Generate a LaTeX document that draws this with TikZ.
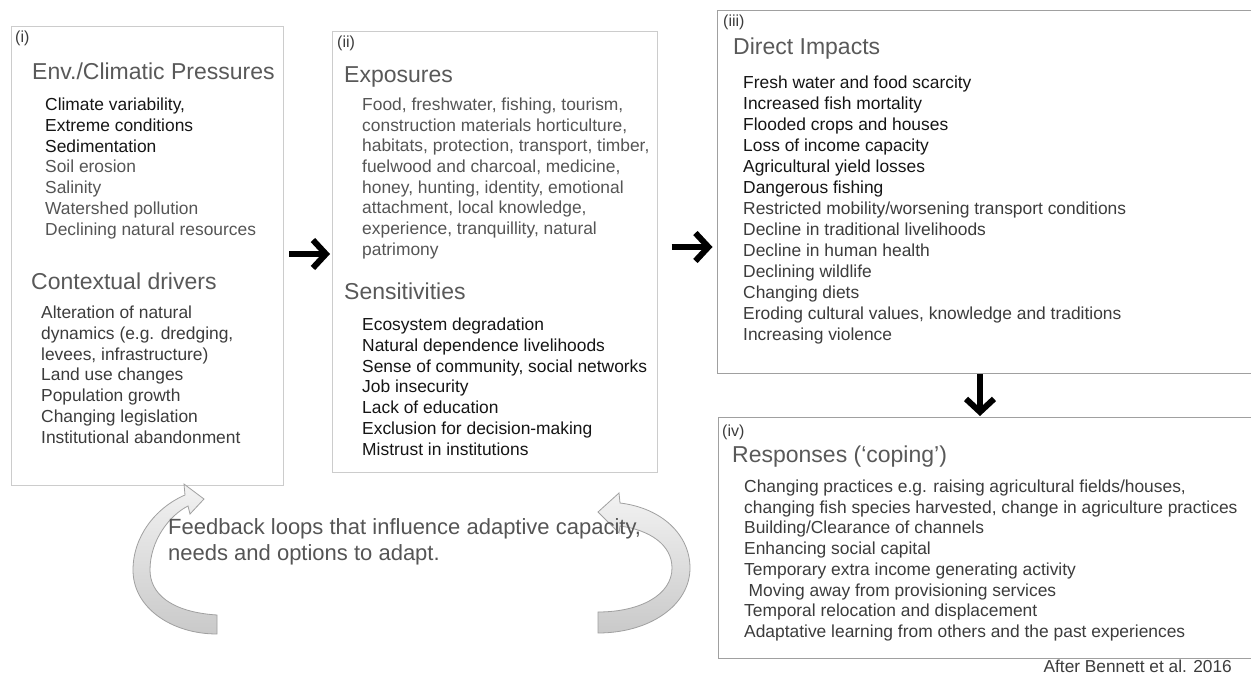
\documentclass[tikz,border=0pt]{standalone}
\usepackage{fontspec}
\setmainfont{Liberation Sans}
\usetikzlibrary{arrows.meta}
\definecolor{txtdark}{HTML}{151515}
\definecolor{txtgray}{HTML}{555555}
\definecolor{txtmid}{HTML}{3C3C3C}
\definecolor{headgray}{HTML}{595959}
\definecolor{lightborder}{HTML}{CCCCCC}
\definecolor{midborder}{HTML}{A0A0A0}
\begin{document}
\begin{tikzpicture}[x=1pt,y=-1pt,
  boxlight/.style={draw=lightborder, line width=1.2pt, anchor=north west, inner sep=0pt},
  boxmid/.style={draw=midborder, line width=1.2pt, anchor=north west, inner sep=0pt},
  lab/.style={anchor=base west, inner sep=0pt, text=txtmid, font=\fontsize{16pt}{19pt}\selectfont},
  head/.style={anchor=base west, inner sep=0pt, text=headgray, font=\fontsize{23pt}{27pt}\selectfont},
  li/.style={anchor=base west, inner sep=0pt, font=\fontsize{17.4pt}{21pt}\selectfont},
  bigarrow/.style={line width=6pt, -{Straight Barb[length=13pt,width=28pt,line width=6pt]}},
  curvarrow/.style={draw=midborder, line width=0.8pt, top color=gray!10, bottom color=gray!42}
]
\clip (0,0) rectangle (1251,679);
\fill[white] (0,0) rectangle (1251,679);

% boxes
\node[boxlight, minimum width=272pt, minimum height=459pt] (boxi) at (11,26) {};
\node[boxlight, minimum width=325pt, minimum height=441pt] (boxii) at (332,31) {};
\node[boxmid, minimum width=560pt, minimum height=363pt] (boxiii) at (717,10) {};
\node[boxmid, minimum width=560pt, minimum height=241pt] (boxiv) at (718,417) {};

% box (i)
\node[lab] (labi) at (15,43) {(i)};
\node[head] (hi1) at (32,80) {Env./Climatic Pressures};
\foreach \t [count=\k] in {{Climate variability,},Extreme conditions,Sedimentation}
  \node[li, text=txtdark] (ia\k) at (45,{110.5+(\k-1)*20.8}) {\t};
\foreach \t [count=\k from 4] in {Soil erosion,Salinity,Watershed pollution,Declining natural resources}
  \node[li, text=txtgray] (ia\k) at (45,{110.5+(\k-1)*20.8}) {\t};
\node[head] (hi2) at (31,289.5) {Contextual drivers};
\foreach \t [count=\k] in {Alteration of natural,{dynamics (e.g. dredging,},{levees, infrastructure)},Land use changes,Population growth,Changing legislation,Institutional abandonment}
  \node[li, text=txtmid] (ib\k) at (41,{318.5+(\k-1)*20.8}) {\t};

% box (ii)
\node[lab] (labii) at (337,48) {(ii)};
\node[head] (hii1) at (344,82.5) {Exposures};
\foreach \t [count=\k] in {{Food, freshwater, fishing, tourism,},{construction materials horticulture,},{habitats, protection, transport, timber,},{fuelwood and charcoal, medicine,},{honey, hunting, identity, emotional},{attachment, local knowledge,},{experience, tranquillity, natural},patrimony}
  \node[li, text=txtgray] (iia\k) at (362,{110.5+(\k-1)*20.7}) {\t};
\node[head] (hii2) at (344,299.5) {Sensitivities};
\foreach \t [count=\k] in {Ecosystem degradation,Natural dependence livelihoods,{Sense of community, social networks},Job insecurity,Lack of education,Exclusion for decision-making,Mistrust in institutions}
  \node[li, text=txtdark] (iib\k) at (362,{330.5+(\k-1)*20.8}) {\t};

% box (iii)
\node[lab] (labiii) at (723,27) {(iii)};
\node[head] (hiii) at (733,54.5) {Direct Impacts};
\foreach \t [count=\k] in {Fresh water and food scarcity,Increased fish mortality,Flooded crops and houses,Loss of income capacity,Agricultural yield losses,Dangerous fishing}
  \node[li, text=txtdark] (iiia\k) at (743,{88.5+(\k-1)*21}) {\t};
\foreach \t [count=\k from 7] in {Restricted mobility/worsening transport conditions,Decline in traditional livelihoods,Decline in human health,Declining wildlife,Changing diets,{Eroding cultural values, knowledge and traditions},Increasing violence}
  \node[li, text=txtmid] (iiia\k) at (743,{88.5+(\k-1)*21}) {\t};

% box (iv)
\node[lab] (labiv) at (722,436) {(iv)};
\node[head] (hiv) at (732,462.5) {Responses (‘coping’)};
\foreach \t [count=\k] in {{Changing practices e.g. raising agricultural fields/houses,},{changing fish species harvested, change in agriculture practices},Building/Clearance of channels,Enhancing social capital,Temporary extra income generating activity,\hspace{4.5pt}Moving away from provisioning services,Temporal relocation and displacement,Adaptative learning from others and the past experiences}
  \node[li, text=txtmid] (iva\k) at (744,{492.5+(\k-1)*20.7}) {\t};

\node[anchor=base east, inner sep=0pt, text=txtmid, font=\fontsize{17.3pt}{21pt}\selectfont] (src) at (1232,672.5) {After Bennett et al. 2016};

% straight arrows
\coordinate (ya) at (0,254);
\coordinate (yb) at (0,247);
\draw[bigarrow, shorten <=5pt, shorten >=2pt] (boxi.east |- ya) -- (boxii.west |- ya);
\draw[bigarrow, shorten <=13.5pt, shorten >=4.5pt] (boxii.east |- yb) -- (boxiii.west |- yb);
\coordinate (xd) at (980,0);
\draw[bigarrow, shorten <=0pt, shorten >=1pt] (boxiii.south -| xd) -- (boxiv.north -| xd);

% curved feedback arrows
\path[curvarrow] (217,615) .. controls (170,612) and (150,593) .. (150,570)
   .. controls (150,540) and (170,515) .. (188,506)
   -- (190,514) -- (204,499) -- (184,484) -- (185,495)
   .. controls (155,508) and (133,537) .. (133,570)
   .. controls (133,608) and (172,634) .. (217,634) -- cycle;
\path[curvarrow] (620,503) .. controls (662,508) and (690,535) .. (690,568)
   .. controls (690,605) and (650,633) .. (598,633)
   -- (598,612)
   .. controls (640,612) and (672,595) .. (672,568)
   .. controls (672,545) and (650,530) .. (620,526)
   -- (619,533) -- (598,512) -- (619,493) -- cycle;

\node[anchor=base west, inner sep=0pt, text=txtgray, align=left, font=\fontsize{22pt}{26pt}\selectfont] (fb) at (168,560) {Feedback loops that influence adaptive capacity,\\needs and options to adapt.};
\end{tikzpicture}
\end{document}
